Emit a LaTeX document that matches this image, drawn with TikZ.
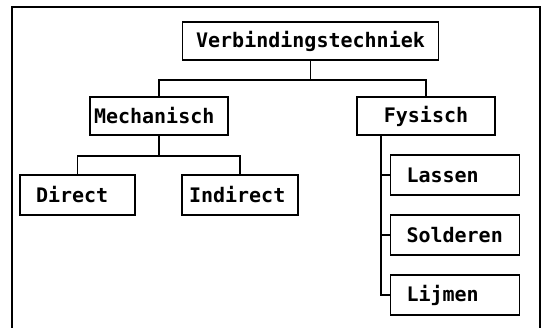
\documentclass[tikz,border=0pt]{standalone}
\usepackage{fontspec}
\newfontfamily\chartfont{DejaVu Sans Mono}
\begin{document}
\begin{tikzpicture}[x=1pt,y=-1pt,
  every node/.style={font=\chartfont\bfseries\fontsize{20}{23}\selectfont},
  box/.style={draw, line width=1.7pt, minimum height=38pt, inner ysep=0pt, align=left},
  centred/.style={box, align=center},
  leaf/.style={box, minimum height=40pt, text width=97pt, inner xsep=16pt},
  link/.style={line width=1.7pt},
  frame/.style={line width=2.6pt}]
\useasboundingbox (0,0) rectangle (543,328);

% outer frame, open at the bottom
\draw[frame] (12,328) -- (12,7) -- (540,7) -- (540,328);

% tree nodes
\node[centred, minimum width=256pt] (top) at (310.5,41) {Verbindingstechniek};
\node[box, text width=130pt, inner xsep=4pt] (mech) at (159,116) {Mechanisch};
\node[centred, minimum width=138pt] (fys) at (426,116) {Fysisch};
\node[box, minimum height=40pt, text width=83pt, inner xsep=16pt] (direct) at (77.5,195) {Direct};
\node[box, minimum height=40pt, text width=102pt, inner xsep=7pt] (indirect) at (240,195) {Indirect};
\node[leaf] (lassen) at (455,175) {Lassen};
\node[leaf] (solderen) at (455,235) {Solderen};
\node[leaf] (lijmen) at (455,295) {Lijmen};

% junctions
\coordinate (j1) at (310.5,80);
\coordinate (j2) at (159,156);
\coordinate (spine) at (381,0);

% connectors
\draw[link] (top) -- (j1);
\draw[link] (mech) |- (j1) -| (fys);
\draw[link] (mech) -- (j2);
\draw[link] (direct) |- (j2) -| (indirect);
\draw[link] (fys.south -| spine) |- (lijmen.west);
\draw[link] (lassen.west) -- (lassen.west -| spine);
\draw[link] (solderen.west) -- (solderen.west -| spine);
\end{tikzpicture}
\end{document}
